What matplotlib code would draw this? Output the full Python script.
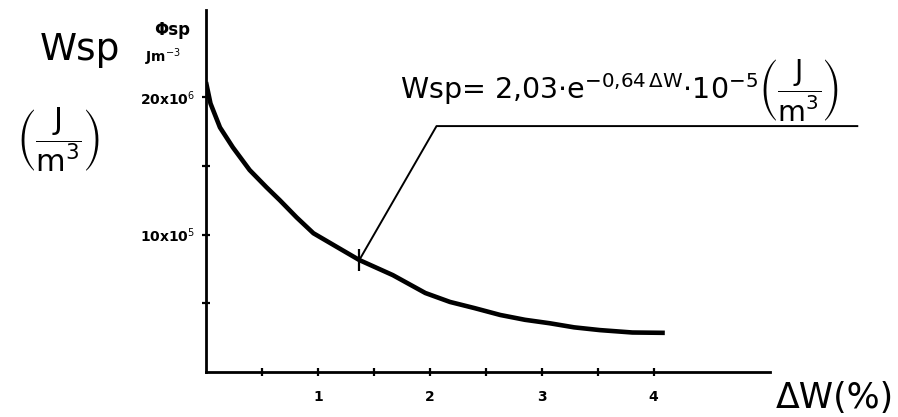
import matplotlib
matplotlib.use("Agg")
import matplotlib.pyplot as plt

# curve (x in %, y in tick units of the W axis)
dw = [0.0, 0.04, 0.125, 0.24, 0.39, 0.54, 0.66, 0.81, 0.96, 1.17, 1.37, 1.67,
      1.96, 2.18, 2.40, 2.63, 2.85, 3.07, 3.29, 3.52, 3.81, 4.10]
wsp = [4.22, 3.91, 3.56, 3.27, 2.94, 2.69, 2.50, 2.25, 2.02, 1.82, 1.63, 1.41,
       1.15, 1.02, 0.93, 0.83, 0.76, 0.71, 0.65, 0.61, 0.575, 0.57]

x_ticks = [0.5, 1, 1.5, 2, 2.5, 3, 3.5, 4]
x_labels = ["", "1", "", "2", "", "3", "", "4"]
y_ticks = [1, 2, 3, 4]
y_labels = ["", r"10x10$^5$", "", r"20x10$^6$"]

marked = 10  # index of the point the formula points to

W, H = 898, 417
fig = plt.figure(figsize=(W / 100, H / 100), dpi=100)

def fx(px):
    return px / W

def fy(py):
    return 1 - py / H

ax = fig.add_axes([fx(206), fy(372), (770 - 206) / W, (372 - 10) / H])
ax.plot(dw, wsp, color="black", lw=3.3, solid_capstyle="butt", solid_joinstyle="round")
ax.set_xlim(0, 5.04)
ax.set_ylim(0, 5.27)

for s in ["top", "right"]:
    ax.spines[s].set_visible(False)
for s in ["left", "bottom"]:
    ax.spines[s].set_linewidth(2.0)

ax.set_xticks(x_ticks)
ax.set_xticklabels(x_labels, fontsize=10, fontweight="bold")
ax.set_yticks(y_ticks)
ax.set_yticklabels(y_labels, fontsize=10, fontweight="bold")
ax.tick_params(axis="both", direction="inout", length=6, width=1.6)
ax.tick_params(axis="x", pad=10)
ax.tick_params(axis="y", pad=5)

# pointer from the curve to the formula
px, py = dw[marked], wsp[marked]
ax.plot([px], [py], marker="|", ms=16, mew=1.6, color="black")
ax.plot([px, 2.06, 5.82], [py, 3.58, 3.58], color="black", lw=1.4, clip_on=False)

fig.text(fx(400), fy(90),
         r"Wsp= 2,03$\cdot$e$^{-0{,}64\,\Delta \mathrm{W}}$$\cdot$10$^{-5}$"
         r"$\left(\dfrac{\mathrm{J}}{\mathrm{m^3}}\right)$",
         fontsize=20.5, ha="left", va="center")

fig.text(fx(40), fy(50), "Wsp", fontsize=27, ha="left", va="center")
fig.text(fx(58), fy(140), r"$\left(\dfrac{\mathrm{J}}{\mathrm{m^3}}\right)$",
         fontsize=22, ha="center", va="center")

fig.text(fx(172), fy(30), "Φsp", fontsize=12, fontweight="bold", ha="center", va="center")
fig.text(fx(163), fy(57), r"Jm$^{-3}$", fontsize=10, fontweight="bold", ha="center", va="center")

fig.text(fx(776), fy(398), "ΔW(%)", fontsize=25, ha="left", va="center")

fig.savefig("out.png", dpi=100)
